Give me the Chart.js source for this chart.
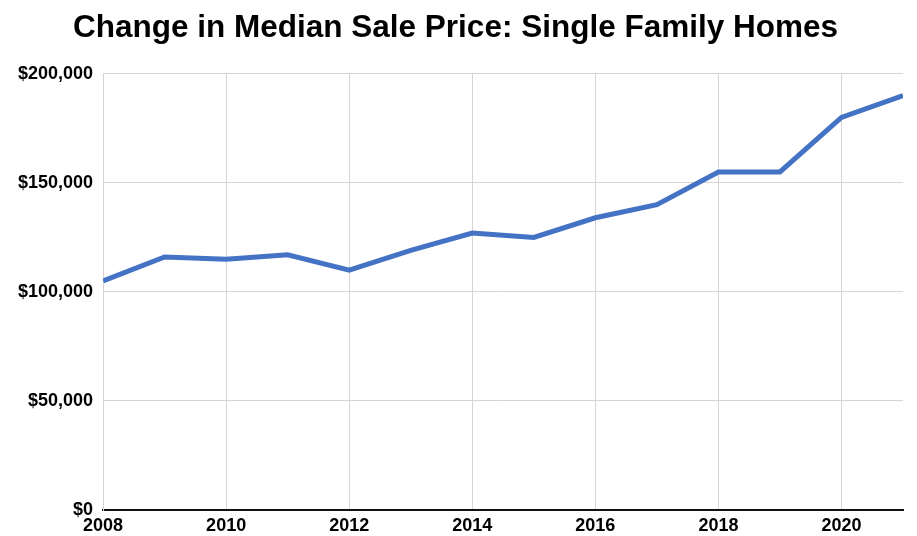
<!DOCTYPE html>
<html>
<head>
<meta charset="utf-8">
<script src="https://cdn.jsdelivr.net/npm/chart.js@4.4.0/dist/chart.umd.min.js"></script>
<style>
  html, body { margin: 0; padding: 0; background: #fff; }
  #wrap { width: 917px; height: 536px; }
</style>
</head>
<body>
<div id="wrap"><canvas id="priceChart"></canvas></div>
<script>
// years along the x-axis
var years = [2008, 2009, 2010, 2011, 2012, 2013, 2014, 2015, 2016, 2017, 2018, 2019, 2020, 2021];
// median sale price, single family homes
var price = [105000, 116000, 115000, 117000, 110000, 119000, 127000, 125000, 134000, 140000, 155000, 155000, 180000, 190000];
// tick labels
var yearTicks = [2008, 2010, 2012, 2014, 2016, 2018, 2020];
var priceTicks = [0, 50000, 100000, 150000, 200000];

var points = years.map(function (y, i) { return { x: y, y: price[i] }; });

var ctx = document.getElementById("priceChart");
var myChart = new Chart(ctx, {
  type: 'line',
  data: {
    datasets: [
      {
        data: points,
        label: "Median Sale Price",
        borderColor: "#4472c4",
        borderWidth: 5,
        pointRadius: 0,
        tension: 0,
        fill: false
      }
    ]
  },
  options: {
    responsive: true,
    maintainAspectRatio: false,
    animation: false,
    layout: { padding: { left: 8, right: 14, top: 4, bottom: 0 } },
    plugins: {
      legend: { display: false },
      tooltip: { enabled: false },
      title: {
        display: true,
        text: "Change in Median Sale Price: Single Family Homes",
        color: "#000",
        font: { family: "'Liberation Sans', Arial, sans-serif", size: 31.5, weight: 'bold' },
        padding: { top: 5, bottom: 27 }
      }
    },
    scales: {
      x: {
        type: 'linear',
        min: years[0],
        max: years[years.length - 1],
        afterBuildTicks: function (scale) {
          scale.ticks = yearTicks.map(function (v) { return { value: v }; });
        },
        afterFit: function (scale) { scale.height = 26; },
        ticks: {
          color: "#000",
          padding: 5,
          maxRotation: 0,
          autoSkip: false,
          font: { family: "'Liberation Sans', Arial, sans-serif", size: 18, weight: 'bold' },
          callback: function (v) { return String(v); }
        },
        grid: { color: "#d9d4d4", lineWidth: 1, drawTicks: false },
        border: { color: "#111", width: 2 }
      },
      y: {
        min: 0,
        max: 200000,
        afterBuildTicks: function (scale) {
          scale.ticks = priceTicks.map(function (v) { return { value: v }; });
        },
        ticks: {
          color: "#000",
          padding: 10,
          font: { family: "'Liberation Sans', Arial, sans-serif", size: 18, weight: 'bold' },
          callback: function (v) { return "$" + v.toLocaleString("en-US"); }
        },
        grid: { color: "#d9d4d4", lineWidth: 1, drawTicks: false },
        border: { display: true, color: "#d9d4d4", width: 1 }
      }
    }
  }
});
</script>
</body>
</html>
